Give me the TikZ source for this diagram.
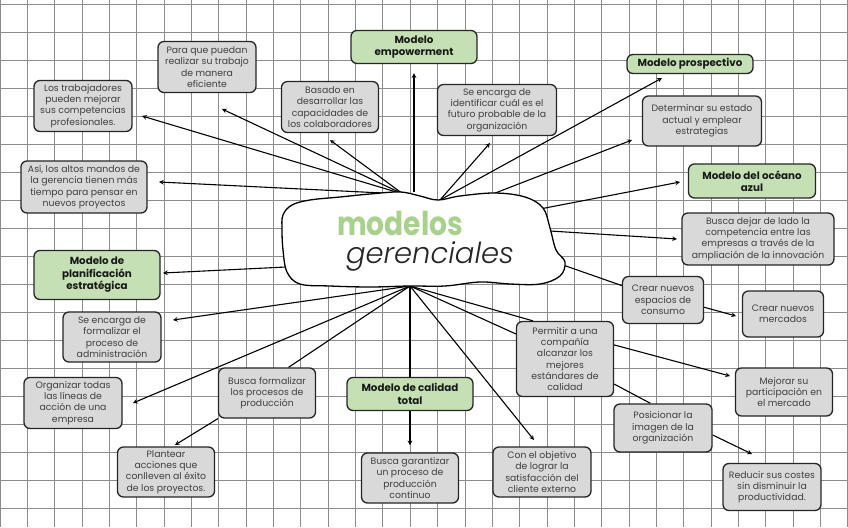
\documentclass[tikz,border=0pt]{standalone}
\usepackage{fontspec}
\setmainfont{Poppins}
\newfontfamily\gerfont{Poppins Light Italic}
\usepackage{xcolor}
\usetikzlibrary{arrows, positioning, calc}
\definecolor{verde}{HTML}{C5E0B4}
\definecolor{verdetit}{HTML}{A9D18E}
\definecolor{gris}{HTML}{D9D9D9}
\pgfdeclarelayer{rejilla}
\pgfdeclarelayer{lineas}
\pgfsetlayers{rejilla,lineas,main}

\begin{document}
\begin{tikzpicture}[x=1pt, y=-1pt,
    idea/.style={rectangle, rounded corners=6pt, minimum width=98pt, minimum height=50pt, align=center, draw=black!85, line width=1.3pt, fill=gris, text=black!75, inner sep=1pt, font=\fontsize{9.3}{11.3}\selectfont},
    modelo/.style={idea, fill=verde, text=black!90, minimum width=126pt, font=\fontsize{10.3}{12.5}\selectfont\bfseries},
    arrow/.style={line width=1.1pt,->,>=stealth},
    link/.style={line width=1.1pt}]

\useasboundingbox (0,0) rectangle (848,527);

% grid
\begin{pgfonlayer}{rejilla}
\fill[white] (0,0) rectangle (848,527);
\foreach \i in {0,...,31} \draw[black!45, line width=0.9pt] ({\i*27.35},0) -- ({\i*27.35},527);
\foreach \j in {0,...,18} \draw[black!45, line width=0.9pt] (0,{4+\j*28}) -- (848,{4+\j*28});
\end{pgfonlayer}

% centre
\draw[line width=1.3pt, fill=white] plot[smooth cycle, tension=0.6] coordinates {
  (283,215) (292,205) (310,200) (340,197) (370,194) (400,192) (420,196) (438,200)
  (460,196) (495,193) (525,197) (543,208) (550,228) (556,250) (565,262) (560,276)
  (540,284) (510,284) (480,282) (445,286) (410,286) (370,287) (330,286) (300,284)
  (287,272) (283,250) (282,230)};
\node (modelos) [anchor=base, text=verdetit, font=\fontsize{33}{33}\selectfont\bfseries, xscale=0.85, transform shape] at (400,235) {modelos};
\node (gerenciales) [anchor=base, text=black!85, font=\gerfont\fontsize{29}{29}\selectfont] at (430,263) {gerenciales};

\coordinate (ctl) at (403,194);
\coordinate (ctop) at (414,192);
\coordinate (ctr) at (440,200);
\coordinate (ctr2) at (485,197);
\coordinate (cr1) at (540,209);
\coordinate (cr2) at (550,231);
\coordinate (cr3) at (563,265);
\coordinate (cl) at (286,267);
\coordinate (cbot) at (410,286);

% modelos
\node (empow) [modelo, minimum height=33pt] at (414,47) {Modelo\\empowerment};
\node (prosp) [modelo, minimum height=19pt] at (690,64) {Modelo prospectivo};
\node (oceano) [modelo, minimum width=127pt, minimum height=34pt] at (752,181) {Modelo del océano\\azul};
\node (planif) [modelo, minimum height=49pt] at (97,275) {Modelo de\\planificación\\estratégica};
\node (calidad) [modelo, minimum height=33pt] at (410,394) {Modelo de calidad\\total};

% ideas
\node (para) [idea, minimum height=51pt] at (207,67) {Para que puedan\\realizar su trabajo\\de manera\\eficiente};
\node (trab) [idea, minimum height=51pt] at (83,106) {Los trabajadores\\pueden mejorar\\sus competencias\\profesionales.};
\node (altos) [idea, minimum width=126pt, minimum height=52pt] at (84,187) {Así, los altos mandos de\\la gerencia tienen más\\tiempo para pensar en\\nuevos proyectos};
\node (basado) [idea, minimum width=97pt, minimum height=51pt] at (330,107) {Basado en\\desarrollar las\\capacidades de\\los colaboradores};
\node (identif) [idea, minimum width=119pt, minimum height=51pt] at (497,110) {Se encarga de\\identificar cuál es el\\futuro probable de la\\organización};
\node (determ) [idea, minimum width=119pt] at (702,121) {Determinar su estado\\actual y emplear\\estrategias};
\node (dejar) [idea, minimum width=152pt, minimum height=52pt] at (758,239) {Busca dejar de lado la\\competencia entre las\\empresas a través de la\\ampliación de la innovación};
\node (formadm) [idea] at (112,337) {Se encarga de\\formalizar el\\proceso de\\administración};
\node (organ) [idea, minimum height=51pt] at (73,403) {Organizar todas\\las líneas de\\acción de una\\empresa};
\node (fprod) [idea, minimum width=97pt] at (267,393) {Busca formalizar\\los procesos de\\producción};
\node (plant) [idea, minimum width=97pt] at (166,472) {Plantear\\acciones que\\conlleven al éxito\\de los proyectos.};
\node (garant) [idea, minimum width=97pt] at (410,478) {Busca garantizar\\un proceso de\\producción\\continuo};
\node (objet) [idea] at (542,472) {Con el objetivo\\de lograr la\\satisfacción del\\cliente externo};
\node (permit) [idea, minimum width=97pt, minimum height=75pt] at (565,359) {Permitir a una\\compañía\\alcanzar los\\mejores\\estándares de\\calidad};
\node (espac) [idea, minimum width=81pt, minimum height=47pt] at (663,300) {Crear nuevos\\espacios de\\consumo};
\node (merc) [idea, minimum width=81pt, minimum height=46pt] at (783,314) {Crear nuevos\\mercados};
\node (mejor) [idea, minimum width=97pt, minimum height=48pt] at (784,392) {Mejorar su\\participación en\\el mercado};
\node (posic) [idea, minimum height=48pt] at (663,428) {Posicionar la\\imagen de la\\organización};
\node (reduc) [idea, minimum height=47pt] at (772,487) {Reducir sus costes\\sin disminuir la\\productividad.};

% puntas
\coordinate (para-in) at (222,109);
\coordinate (trab-in) at (142,116);
\coordinate (altos-in) at (159,182);
\coordinate (basado-in) at (330,140);
\coordinate (identif-in) at (490,143);
\coordinate (prosp-in) at (662,78);
\coordinate (determ-in) at (632,140);
\coordinate (oceano-in) at (680,182);
\coordinate (dejar-in) at (677,239);
\coordinate (planif-in) at (163,273);
\coordinate (formadm-in) at (173,320);
\coordinate (organ-in) at (133,403);
\coordinate (objet-in) at (534,440);
\coordinate (merc-in) at (736,316);
\coordinate (mejor-in) at (730,376);
\coordinate (reduc-in) at (752,454);
\coordinate (plant-in) at (175,445);

\begin{pgfonlayer}{lineas}
\draw [arrow] (ctl) -- (para-in);
\draw [arrow] (ctl) -- (trab-in);
\draw [arrow] (ctl) -- (altos-in);
\draw [arrow] (ctl) -- (basado-in);
\draw [arrow, shorten >=9pt] (ctop) -- (empow);
\draw [arrow] (ctr) -- (identif-in);
\draw [arrow] (ctr) -- (prosp-in);
\draw [arrow] (ctr2) -- (determ-in);
\draw [arrow] (cr1) -- (oceano-in);
\draw [arrow] (cr2) -- (dejar-in);
\draw [link] (cr3) -- (espac);
\draw [arrow] (espac.-10) -- (merc-in);
\draw [arrow] (cl) -- (planif-in);
\draw [arrow] (cbot) -- (formadm-in);
\draw [arrow] (cbot) -- (organ-in);
\draw [link] (cbot) -- (fprod.50);
\draw [arrow] (fprod.south west) -- (plant-in);
\draw [link] (cbot) -- (calidad);
\draw [arrow, shorten >=7pt] (calidad) -- (garant);
\draw [arrow] (cbot) -- (objet-in);
\draw [link] (cbot) -- (permit.130);
\draw [link] (cbot) -- (permit.153);
\draw [arrow] (permit.16) -- (mejor-in);
\draw [link] (permit.-27) -- (posic.117);
\draw [arrow] (posic.-8) -- (reduc-in);
\end{pgfonlayer}

\end{tikzpicture}
\end{document}
